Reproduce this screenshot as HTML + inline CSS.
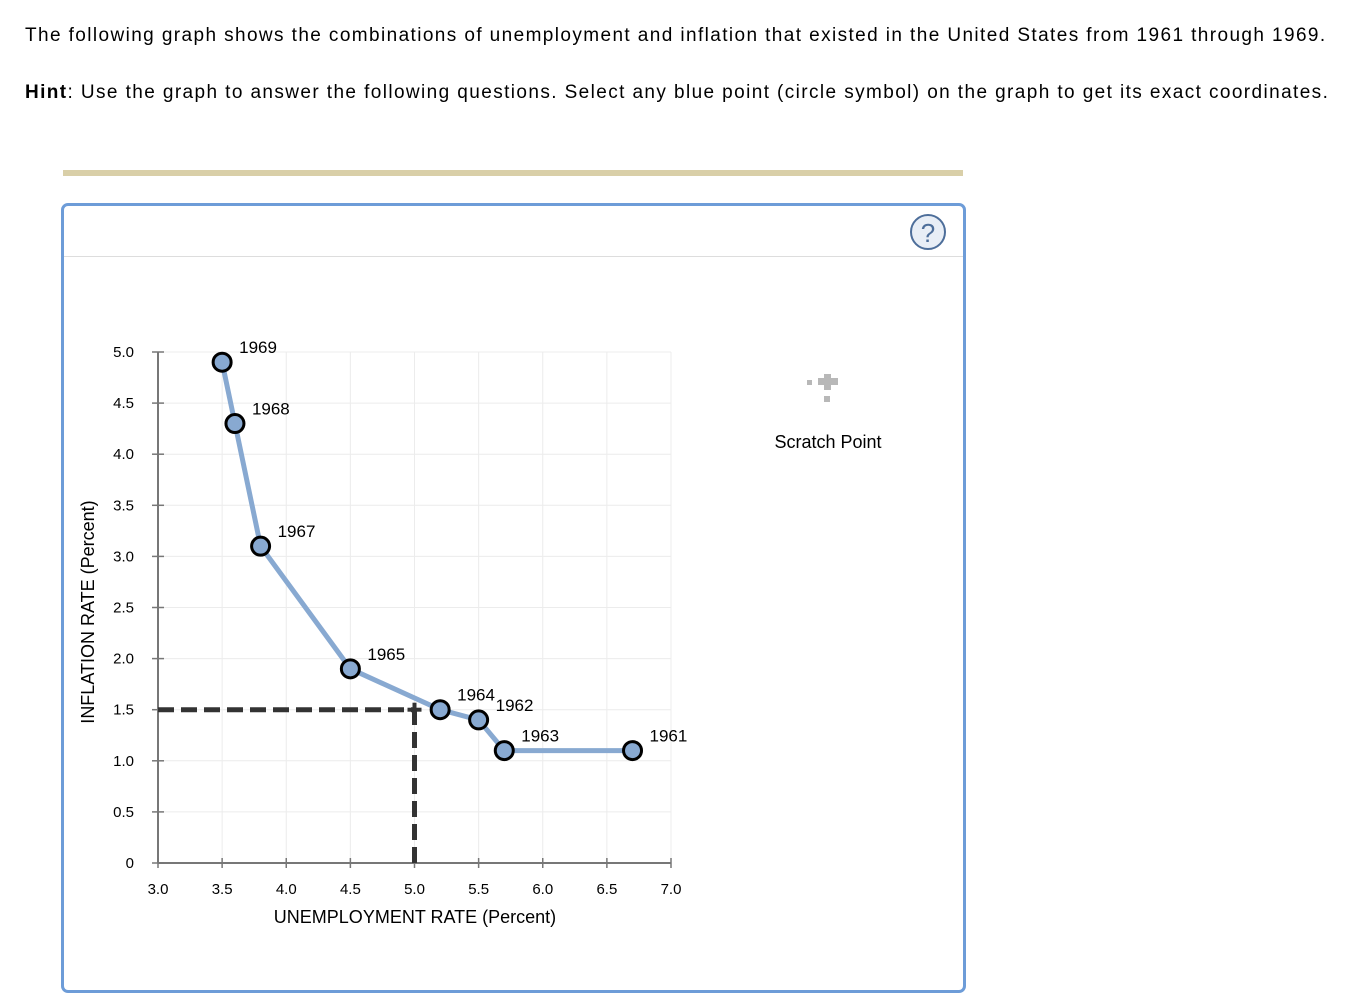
<!DOCTYPE html>
<html><head><meta charset="utf-8"><style>
body{margin:0;background:#fff;font-family:"Liberation Sans",sans-serif;color:#000;}
.p{position:absolute;left:25px;font-size:19px;margin:0;letter-spacing:1.4px;white-space:nowrap;}
</style></head><body>
<div style="position:relative;width:1358px;height:1004px;overflow:hidden">
<p class="p" style="top:25px">The following graph shows the combinations of unemployment and inflation that existed in the United States from 1961 through 1969.</p>
<p class="p" style="top:82px"><b>Hint</b>: Use the graph to answer the following questions. Select any blue point (circle symbol) on the graph to get its exact coordinates.</p>
<div style="position:absolute;left:63px;top:170px;width:900px;height:6px;background:#d9cfa8"></div>
<div style="position:absolute;left:61px;top:203px;width:899px;height:784px;border:3px solid #6d9cd8;border-radius:7px"></div>
<div style="position:absolute;left:64px;top:256px;width:899px;height:1px;background:#ddd"></div>
<svg id="chart" width="1358" height="1004" style="position:absolute;left:0;top:0">
<g>
<circle cx="928" cy="232" r="17" fill="#e8eef6" stroke="#4d6e9a" stroke-width="2"/>
<text x="928" y="242" text-anchor="middle" font-size="26" fill="#4d6e9a">?</text></g>
<g>
<rect x="807" y="380" width="5" height="5" fill="#b8b8b8"/>
<rect x="818" y="378" width="20" height="7" fill="#b8b8b8"/>
<rect x="824" y="374" width="7" height="16" fill="#b8b8b8"/>
<rect x="824" y="396" width="6" height="6" fill="#b8b8b8"/>
<text x="828" y="448" text-anchor="middle" font-size="18">Scratch Point</text></g>
</svg>
</div>
<script>
const xTicks=[3.0,3.5,4.0,4.5,5.0,5.5,6.0,6.5,7.0];
const yTicks=[0,0.5,1.0,1.5,2.0,2.5,3.0,3.5,4.0,4.5,5.0];
const xTickLabels=["3.0","3.5","4.0","4.5","5.0","5.5","6.0","6.5","7.0"];
const yTickLabels=["0","0.5","1.0","1.5","2.0","2.5","3.0","3.5","4.0","4.5","5.0"];
const years=["1969","1968","1967","1965","1964","1962","1963","1961"];
const unemployment=[3.5,3.6,3.8,4.5,5.2,5.5,5.7,6.7];
const inflation=[4.9,4.3,3.1,1.9,1.5,1.4,1.1,1.1];
const scratchX=5.0, scratchY=1.5;
const NS="http://www.w3.org/2000/svg";
const svg=document.getElementById('chart');
const X=v=>158+(v-3)*128.25;
const Y=v=>863-v*102.2;
function mk(t,a,p){const e=document.createElementNS(NS,t);for(const k in a)e.setAttribute(k,a[k]);(p||svg).appendChild(e);return e;}
const grid=mk('g',{});


xTicks.forEach(v=>{if(v>3)mk('line',{x1:X(v),x2:X(v),y1:Y(5),y2:Y(0),stroke:'#ececec','stroke-width':1},grid);});
yTicks.forEach(v=>{if(v>0)mk('line',{x1:X(3),x2:X(7),y1:Y(v),y2:Y(v),stroke:'#ececec','stroke-width':1},grid);});
const ax=mk('g',{});


mk('line',{x1:X(3),x2:X(3),y1:Y(5),y2:Y(0),stroke:'#777','stroke-width':2},ax);
mk('line',{x1:X(3),x2:X(7),y1:Y(0),y2:Y(0),stroke:'#777','stroke-width':2},ax);
xTicks.forEach((v,i)=>{mk('line',{x1:X(v),x2:X(v),y1:Y(0)-5,y2:Y(0)+5,stroke:'#777','stroke-width':1.5},ax);
const t=mk('text',{x:X(v),y:894,'text-anchor':'middle','font-size':15},ax);t.textContent=xTickLabels[i];

});
yTicks.forEach((v,i)=>{mk('line',{x1:X(3)-6,x2:X(3)+6,y1:Y(v),y2:Y(v),stroke:'#777','stroke-width':1.5},ax);
const t=mk('text',{x:134,y:Y(v)+5,'text-anchor':'end','font-size':15},ax);t.textContent=yTickLabels[i];

});
const xt=mk('text',{x:415,y:923,'text-anchor':'middle','font-size':18});xt.textContent='UNEMPLOYMENT RATE (Percent)';


const yt=mk('text',{x:0,y:0,'text-anchor':'middle','font-size':18,transform:'translate(94,612) rotate(-90)'});yt.textContent='INFLATION RATE (Percent)';


const dh=mk('line',{x1:X(3),x2:X(scratchX),y1:Y(scratchY),y2:Y(scratchY),stroke:'#333','stroke-width':5,'stroke-dasharray':'16,7'});


const dv=mk('line',{x1:X(scratchX),x2:X(scratchX),y1:Y(0),y2:Y(scratchY),stroke:'#333','stroke-width':5,'stroke-dasharray':'16,7'});


const pts=unemployment.map((u,i)=>X(u)+','+Y(inflation[i])).join(' ');
const pl=mk('polyline',{points:pts,fill:'none',stroke:'#88a9d1','stroke-width':5});


const cr=mk('g',{});


mk('line',{x1:X(scratchX)-7,x2:X(scratchX)+7,y1:Y(scratchY),y2:Y(scratchY),stroke:'#333','stroke-width':4},cr);
mk('line',{x1:X(scratchX),x2:X(scratchX),y1:Y(scratchY)-7,y2:Y(scratchY)+7,stroke:'#333','stroke-width':4},cr);
unemployment.forEach((u,i)=>{
const c=mk('circle',{cx:X(u),cy:Y(inflation[i]),r:9,fill:'#88a9d1',stroke:'#000','stroke-width':3});


const t=mk('text',{x:X(u)+17,y:Y(inflation[i])-9,'font-size':17});t.textContent=years[i];


});
</script>
</body></html>
